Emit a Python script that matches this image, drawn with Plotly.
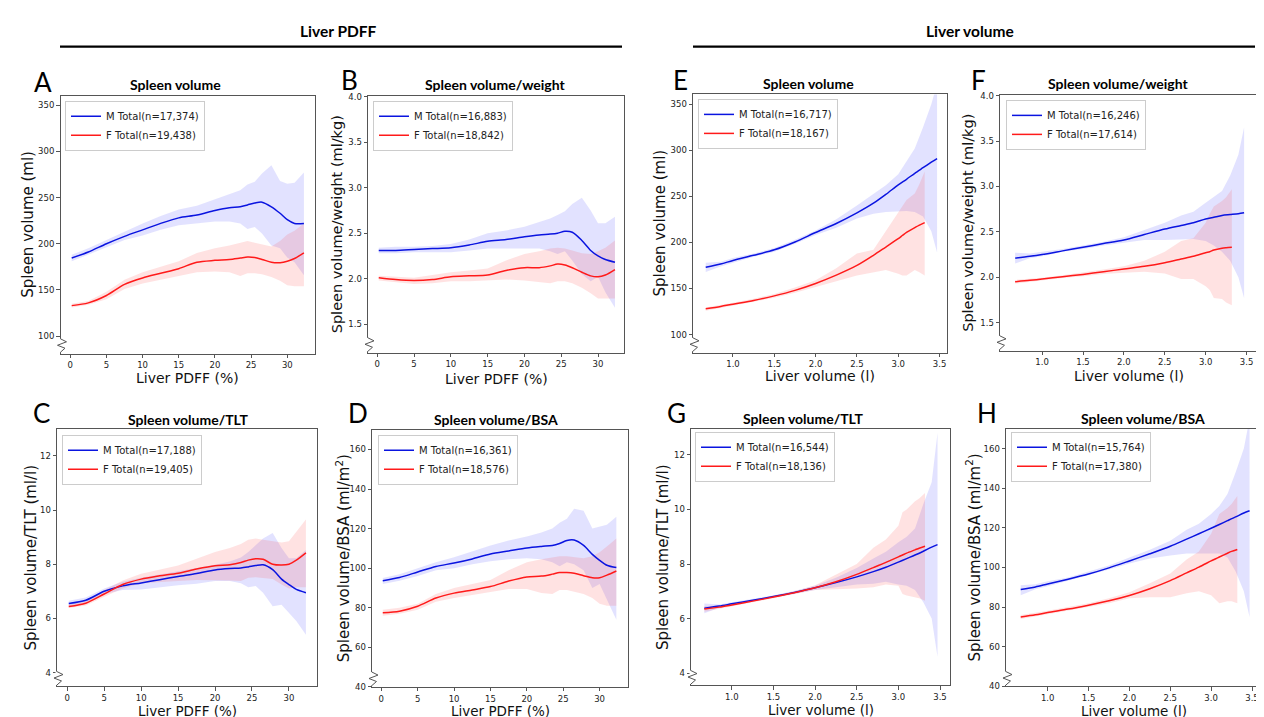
import plotly.graph_objects as go

W, H = 1264, 717

# ---------------- data ----------------
PDFF_X = [0.2, 2.5, 5, 7.5, 10, 12.5, 15, 17.5, 20, 22, 23.5, 24.5, 25.5, 26.5, 27.8, 29, 30, 31, 32.3]
LV_X_M = [0.67, 0.85, 1.0, 1.25, 1.5, 1.75, 2.0, 2.25, 2.5, 2.7, 2.85, 3.0, 3.1, 3.2, 3.3, 3.4, 3.47]
LV_X_F = [0.67, 0.85, 1.0, 1.25, 1.5, 1.75, 2.0, 2.25, 2.5, 2.7, 2.85, 3.0, 3.05, 3.1, 3.2, 3.25, 3.32]

# A: spleen volume vs PDFF
A_M = [184.5, 191, 200, 208, 215, 222, 228, 231, 236, 239, 240, 242, 244, 245, 240, 233, 226, 222, 222]
A_M_LO = [181, 188, 196, 204, 209, 215, 220, 222, 224, 224, 222, 216, 218, 211, 198, 195, 185, 180, 166]
A_M_HI = [188, 195, 204, 213, 222, 230, 237, 241, 248, 253, 258, 264, 267, 276, 285, 268, 265, 266, 277]
A_F = [133, 136, 144, 156, 163, 168, 173, 180, 182, 183, 184.5, 185.5, 185, 183, 180, 179.5, 181, 184, 190]
A_F_LO = [131, 134, 140, 151, 157, 161, 165, 169, 170, 169, 165, 168, 168, 167, 164, 160, 155, 154, 154]
A_F_HI = [135, 138, 148, 161, 169, 175, 181, 190, 195, 198, 201, 203, 201, 199, 197, 203, 210, 214, 222]

# B: spleen volume/weight vs PDFF
B_M = [2.31, 2.31, 2.32, 2.33, 2.34, 2.37, 2.41, 2.43, 2.46, 2.48, 2.49, 2.50, 2.52, 2.51, 2.42, 2.31, 2.25, 2.21, 2.18]
B_M_LO = [2.28, 2.28, 2.29, 2.29, 2.29, 2.31, 2.33, 2.33, 2.33, 2.33, 2.30, 2.27, 2.30, 2.20, 2.05, 1.97, 2.02, 1.85, 1.68]
B_M_HI = [2.34, 2.35, 2.35, 2.36, 2.38, 2.43, 2.50, 2.53, 2.57, 2.62, 2.66, 2.70, 2.74, 2.82, 2.89, 2.75, 2.61, 2.61, 2.68]
B_F = [2.01, 1.99, 1.98, 1.99, 2.02, 2.03, 2.04, 2.09, 2.12, 2.12, 2.14, 2.16, 2.15, 2.12, 2.07, 2.03, 2.02, 2.04, 2.10]
B_F_LO = [1.98, 1.96, 1.94, 1.95, 1.97, 1.97, 1.98, 1.99, 1.98, 1.96, 1.95, 1.97, 1.97, 1.95, 1.90, 1.84, 1.78, 1.78, 1.78]
B_F_HI = [2.03, 2.02, 2.01, 2.04, 2.07, 2.09, 2.11, 2.20, 2.27, 2.30, 2.33, 2.34, 2.33, 2.31, 2.28, 2.27, 2.30, 2.34, 2.42]

# C: spleen volume/TLT vs PDFF
C_M = [6.55, 6.67, 7.0, 7.2, 7.31, 7.43, 7.55, 7.66, 7.79, 7.84, 7.86, 7.90, 7.95, 7.98, 7.8, 7.45, 7.25, 7.07, 6.95]
C_M_LO = [6.45, 6.58, 6.9, 7.05, 7.07, 7.15, 7.22, 7.28, 7.38, 7.38, 7.30, 7.15, 7.2, 6.95, 6.45, 6.5, 6.2, 5.9, 5.4]
C_M_HI = [6.65, 6.77, 7.1, 7.35, 7.5, 7.62, 7.75, 7.85, 7.98, 8.1, 8.25, 8.45, 8.7, 8.95, 9.15, 8.6, 8.22, 8.22, 8.52]
C_F = [6.44, 6.56, 6.9, 7.25, 7.45, 7.57, 7.67, 7.82, 7.94, 7.98, 8.06, 8.15, 8.2, 8.18, 8.0, 7.97, 8.0, 8.15, 8.42]
C_F_LO = [6.38, 6.48, 6.8, 7.1, 7.3, 7.35, 7.38, 7.42, 7.42, 7.40, 7.38, 7.5, 7.52, 7.5, 7.45, 7.25, 7.1, 7.15, 7.15]
C_F_HI = [6.52, 6.65, 7.05, 7.4, 7.65, 7.8, 7.95, 8.2, 8.45, 8.6, 8.75, 8.9, 8.95, 8.9, 8.85, 8.8, 8.85, 9.2, 9.65]

# D: spleen volume/BSA vs PDFF
D_M = [93.7, 95.3, 98.1, 100.9, 102.6, 104.7, 107.2, 108.7, 110.2, 111, 111.5, 112.5, 114, 114.2, 111.5, 107, 104, 101.5, 100.3]
D_M_LO = [92, 93.7, 96, 99, 100, 102, 103.5, 104.5, 105, 104.5, 103, 101, 103, 102, 99, 90, 92, 84, 74]
D_M_HI = [95, 97, 100, 103, 105.5, 108.5, 111.5, 114, 116, 118, 120, 123, 125, 130, 129, 120, 121, 122, 126]
D_F = [77.5, 78.3, 80.8, 84.9, 87.4, 89, 90.7, 93.5, 95.6, 96, 97, 97.8, 97.8, 97.4, 96.2, 95.2, 95.2, 96.5, 98.6]
D_F_LO = [76, 77, 79, 83, 85, 86.5, 88, 89.5, 89.5, 87.5, 87, 89, 89, 88, 87, 85, 82, 81, 81]
D_F_HI = [79, 80, 82, 87, 90, 92, 94, 99, 103, 104.5, 105.5, 106, 106, 105.5, 105, 106, 108, 111, 115]

# E: spleen volume vs liver volume
E_M = [173, 176.5, 180.4, 186, 192, 200.5, 210.7, 220.5, 232, 242.5, 252, 262.5, 268.5, 275, 281, 287, 291]
E_M_LO = [168, 174, 178, 184.5, 190, 198.5, 208, 216, 226, 231, 233, 234, 234, 233, 228, 212, 189]
E_M_HI = [178, 179, 183, 188, 194, 203, 213, 225, 240, 253, 262, 274, 288, 302, 325, 350, 372]
E_F = [128, 130.5, 133, 137, 142, 148, 155.5, 164.5, 175, 186, 195, 204, 207.5, 211, 216, 218.5, 221.5]
E_F_LO = [126, 129, 131.5, 135.5, 140, 145.5, 152, 158, 164, 167, 170, 166, 164, 164, 170, 168, 164]
E_F_HI = [129.5, 132, 134.5, 139, 144, 151, 159, 172, 188, 192, 212, 232, 240, 246, 253, 262, 277]

# F: spleen volume/weight vs liver volume
F_M = [2.21, 2.23, 2.25, 2.29, 2.33, 2.37, 2.41, 2.47, 2.53, 2.57, 2.60, 2.64, 2.66, 2.68, 2.69, 2.70, 2.71]
F_M_LO = [2.15, 2.21, 2.23, 2.28, 2.31, 2.35, 2.38, 2.41, 2.41, 2.42, 2.42, 2.40, 2.35, 2.28, 2.18, 2.0, 1.77]
F_M_HI = [2.27, 2.26, 2.28, 2.31, 2.35, 2.39, 2.44, 2.52, 2.60, 2.68, 2.72, 2.82, 2.88, 2.95, 3.12, 3.35, 3.65]
F_F = [1.95, 1.965, 1.98, 2.005, 2.03, 2.06, 2.09, 2.12, 2.16, 2.20, 2.23, 2.27, 2.28, 2.30, 2.32, 2.325, 2.33]
F_F_LO = [1.93, 1.95, 1.965, 1.99, 2.01, 2.035, 2.05, 2.06, 2.04, 1.98, 1.98, 1.90, 1.86, 1.77, 1.76, 1.72, 1.69]
F_F_HI = [1.97, 1.98, 1.995, 2.02, 2.05, 2.085, 2.12, 2.18, 2.28, 2.40, 2.43, 2.60, 2.70, 2.78, 2.84, 2.88, 2.97]

# G: spleen volume/TLT vs liver volume
G_M = [6.38, 6.46, 6.54, 6.67, 6.81, 6.96, 7.13, 7.32, 7.53, 7.72, 7.88, 8.07, 8.2, 8.33, 8.47, 8.62, 8.71]
G_M_LO = [6.2, 6.4, 6.48, 6.63, 6.77, 6.91, 7.05, 7.15, 7.25, 7.28, 7.35, 7.25, 7.2, 7.05, 6.6, 6.0, 4.6]
G_M_HI = [6.55, 6.52, 6.6, 6.72, 6.85, 7.01, 7.2, 7.5, 7.85, 8.2, 8.45, 8.8, 9.0, 9.3, 10.2, 11.0, 12.8]
G_F = [6.35, 6.42, 6.50, 6.64, 6.79, 6.95, 7.13, 7.35, 7.62, 7.87, 8.06, 8.26, 8.33, 8.4, 8.52, 8.58, 8.65]
G_F_LO = [6.25, 6.36, 6.46, 6.6, 6.75, 6.9, 7.05, 7.08, 7.1, 7.15, 7.25, 7.2, 6.9, 6.85, 6.8, 6.75, 6.65]
G_F_HI = [6.45, 6.48, 6.54, 6.68, 6.85, 7.0, 7.22, 7.6, 8.0, 8.6, 8.9, 9.4, 9.9, 10.0, 10.3, 10.4, 10.6]

# H: spleen volume/BSA vs liver volume
H_M = [88.9, 90.2, 91.7, 94.1, 96.7, 99.8, 103.3, 106.9, 110.7, 114.3, 117, 119.8, 121.7, 123.6, 125.5, 127.5, 128.6]
H_M_LO = [86, 89, 90.5, 93.3, 96, 99, 102, 104.5, 106, 107, 107, 107, 107, 105, 98, 88, 75]
H_M_HI = [91, 91.5, 93, 95, 98, 101, 105, 109, 113.5, 119, 122, 127, 131, 137, 148, 160, 175]
H_F = [75.0, 76.1, 77.3, 79, 81, 83.2, 85.9, 89.3, 93.4, 97.3, 100.2, 103.3, 104.3, 105.3, 107.2, 108.1, 109.1]
H_F_LO = [74, 75.3, 76.5, 78.3, 80, 82, 84.5, 85, 85, 87, 88, 86, 84, 82, 83, 83, 82]
H_F_HI = [76, 77, 78.2, 80, 82, 84.5, 87.5, 92, 97, 104, 108, 117, 122, 127, 130, 132, 136]

LETTERS = ["A", "B", "C", "D", "E", "F", "G", "H"]
TITLES = ["Spleen volume", "Spleen volume/weight", "Spleen volume/TLT", "Spleen volume/BSA",
          "Spleen volume", "Spleen volume/weight", "Spleen volume/TLT", "Spleen volume/BSA"]
YLABELS = ["Spleen volume (ml)", "Spleen volume/weight (ml/kg)", "Spleen volume/TLT (ml/l)",
           "Spleen volume/BSA (ml/m<sup>2</sup>)",
           "Spleen volume (ml)", "Spleen volume/weight (ml/kg)", "Spleen volume/TLT (ml/l)",
           "Spleen volume/BSA (ml/m<sup>2</sup>)"]
XLABELS = ["Liver PDFF (%)"] * 4 + ["Liver volume (l)"] * 4
N_M = ["17,374", "16,883", "17,188", "16,361", "16,717", "16,246", "16,544", "15,764"]
N_F = ["19,438", "18,842", "19,405", "18,576", "18,167", "17,614", "18,136", "17,380"]
SECTIONS = ["Liver PDFF", "Liver volume"]

PDFF_TICKS = [0, 5, 10, 15, 20, 25, 30]
LV_TICKS = [1.0, 1.5, 2.0, 2.5, 3.0, 3.5]
SV_TICKS = [100, 150, 200, 250, 300, 350]
WT_TICKS = [1.5, 2.0, 2.5, 3.0, 3.5, 4.0]
TLT_TICKS = [4, 6, 8, 10, 12]
BSA_TICKS = [40, 60, 80, 100, 120, 140, 160]

# ---------------- layout geometry (pixels) ----------------
panels = [
    dict(data=(A_M, A_M_LO, A_M_HI, A_F, A_F_LO, A_F_HI), xm=PDFF_X, xf=PDFF_X,
         box=(52.5, 307, 85, 346), xr=[-1.35, 33.83], yr=[81, 360], yt=SV_TICKS, yf="d", xt=PDFF_TICKS, xf_fmt="d",
         leg=(57, 90), let=(35, 71), tit=(167, 73), ytx=20, xty=371, xfs=14, yfs=15),
    dict(data=(B_M, B_M_LO, B_M_HI, B_F, B_F_LO, B_F_HI), xm=PDFF_X, xf=PDFF_X,
         box=(360, 616, 85, 345), xr=[-1.26, 33.53], yr=[1.185, 4.01], yt=WT_TICKS, yf=".1f", xt=PDFF_TICKS, xf_fmt="d",
         leg=(365, 90), let=(341, 69), tit=(487, 73), ytx=329, xty=372, xfs=14, yfs=14.5),
    dict(data=(C_M, C_M_LO, C_M_HI, C_F, C_F_LO, C_F_HI), xm=PDFF_X, xf=PDFF_X,
         box=(49, 309, 422, 683), xr=[-1.39, 33.8], yr=[3.49, 13.0], yt=TLT_TICKS, yf="d", xt=PDFF_TICKS, xf_fmt="d",
         leg=(54, 428), let=(33, 406), tit=(180, 413), ytx=23, xty=707.5, xfs=13.5, yfs=15),
    dict(data=(D_M, D_M_LO, D_M_HI, D_F, D_F_LO, D_F_HI), xm=PDFF_X, xf=PDFF_X,
         box=(364, 620, 423, 683.5), xr=[-1.28, 33.9], yr=[40, 170], yt=BSA_TICKS, yf="d", xt=PDFF_TICKS, xf_fmt="d",
         leg=(370, 428), let=(350, 406), tit=(488, 413), ytx=335, xty=708, xfs=13.5, yfs=15),
    dict(data=(E_M, E_M_LO, E_M_HI, E_F, E_F_LO, E_F_HI), xm=LV_X_M, xf=LV_X_F,
         box=(685, 939, 83.5, 345), xr=[0.516, 3.59], yr=[80.4, 360.5], yt=SV_TICKS, yf="d", xt=LV_TICKS, xf_fmt=".1f",
         leg=(690, 88), let=(673, 69), tit=(800, 72), ytx=652, xty=369, xfs=14, yfs=15),
    dict(data=(F_M, F_M_LO, F_M_HI, F_F, F_F_LO, F_F_HI), xm=LV_X_M, xf=LV_X_F,
         box=(992, 1250, 84, 343), xr=[0.485, 3.64], yr=[1.19, 4.008], yt=WT_TICKS, yf=".1f", xt=LV_TICKS, xf_fmt=".1f",
         leg=(998, 89), let=(970, 69), tit=(1110, 72), ytx=960, xty=369, xfs=14, yfs=14.5),
    dict(data=(G_M, G_M_LO, G_M_HI, G_F, G_F_LO, G_F_HI), xm=LV_X_M, xf=LV_X_F,
         box=(683, 942, 422, 682), xr=[0.51, 3.62], yr=[3.55, 12.96], yt=TLT_TICKS, yf="d", xt=LV_TICKS, xf_fmt=".1f",
         leg=(687, 425), let=(668, 406), tit=(795, 412), ytx=655, xty=707, xfs=13.5, yfs=15),
    dict(data=(H_M, H_M_LO, H_M_HI, H_F, H_F_LO, H_F_HI), xm=LV_X_M, xf=LV_X_F,
         box=(998, 1253, 422, 683), xr=[0.49, 3.61], yr=[40, 170], yt=BSA_TICKS, yf="d", xt=LV_TICKS, xf_fmt=".1f",
         leg=(1003, 425), let=(979, 406), tit=(1135, 412), ytx=965, xty=708, xfs=13.5, yfs=15),
]


def px(x):
    return x / W


def py(y):
    return 1 - y / H


BLUE = "#0a14e0"
RED = "#ff1a1a"
BLUE_FILL = "rgba(60,60,255,0.15)"
RED_FILL = "rgba(255,60,60,0.15)"
SPINE = "#555555"
FONT_MPL = "DejaVu Sans"
FONT_CAL = "Lato"

fig = go.Figure()
annotations = []
shapes = []
layout_axes = {}

for i, p in enumerate(panels):
    k = i + 1
    xa = "x" if k == 1 else f"x{k}"
    ya = "y" if k == 1 else f"y{k}"
    leg = "legend" if k == 1 else f"legend{k}"
    m, mlo, mhi, f, flo, fhi = p["data"]
    xm, xf = p["xm"], p["xf"]

    # confidence bands
    for xs, lo, hi, col in ((xm, mlo, mhi, BLUE_FILL), (xf, flo, fhi, RED_FILL)):
        fig.add_trace(go.Scatter(x=xs, y=hi, mode="lines", line=dict(width=0, color=col),
                                 xaxis=xa, yaxis=ya, showlegend=False, hoverinfo="skip", legend=leg))
        fig.add_trace(go.Scatter(x=xs, y=lo, mode="lines", line=dict(width=0, color=col),
                                 fill="tonexty", fillcolor=col,
                                 xaxis=xa, yaxis=ya, showlegend=False, hoverinfo="skip", legend=leg))
    # mean lines
    fig.add_trace(go.Scatter(x=xm, y=m, mode="lines", line=dict(color=BLUE, width=1.5, shape="spline", smoothing=0.8),
                             name=f"M Total(n={N_M[i]})", xaxis=xa, yaxis=ya, legend=leg))
    fig.add_trace(go.Scatter(x=xf, y=f, mode="lines", line=dict(color=RED, width=1.5, shape="spline", smoothing=0.8),
                             name=f"F Total(n={N_F[i]})", xaxis=xa, yaxis=ya, legend=leg))

    l, r, t, b = p["box"]
    axkey_x = "xaxis" if k == 1 else f"xaxis{k}"
    axkey_y = "yaxis" if k == 1 else f"yaxis{k}"
    layout_axes[axkey_x] = dict(
        domain=[px(l), px(r)], anchor=ya, range=p["xr"], tickvals=p["xt"], tickformat=p["xf_fmt"],
        showline=True, mirror=True, linecolor=SPINE, linewidth=1, ticks="outside", ticklen=3.5,
        tickcolor=SPINE, showgrid=False, zeroline=False, tickfont=dict(family=FONT_MPL, size=8.5, color="#222"),
    )
    layout_axes[axkey_y] = dict(
        domain=[py(b), py(t)], anchor=xa, range=p["yr"], tickvals=p["yt"], tickformat=p["yf"],
        showline=True, mirror=True, linecolor=SPINE, linewidth=1, ticks="outside", ticklen=3.5,
        tickcolor=SPINE, showgrid=False, zeroline=False, tickfont=dict(family=FONT_MPL, size=8.5, color="#222"),
    )
    layout_axes[leg] = dict(
        x=px(p["leg"][0]), y=py(p["leg"][1]), xanchor="left", yanchor="top",
        bgcolor="white", bordercolor="#cccccc", borderwidth=1, traceorder="normal",
        font=dict(family=FONT_MPL, size=10, color="#222"), itemwidth=30, tracegroupgap=0,
    )

    annotations.append(dict(text=LETTERS[i], x=px(p["let"][0]), y=py(p["let"][1]), xref="paper", yref="paper",
                            showarrow=False, xanchor="center", yanchor="middle",
                            font=dict(family=FONT_CAL, size=26, color="black")))
    annotations.append(dict(text=f"<b>{TITLES[i]}</b>", x=px(p["tit"][0]), y=py(p["tit"][1]), xref="paper",
                            yref="paper", showarrow=False, xanchor="center", yanchor="middle",
                            font=dict(family=FONT_CAL, size=14, color="black")))
    annotations.append(dict(text=YLABELS[i], x=px(p["ytx"]), y=py((t + b) / 2), xref="paper", yref="paper",
                            showarrow=False, textangle=-90, xanchor="center", yanchor="middle",
                            font=dict(family=FONT_MPL, size=p["yfs"], color="#111")))
    annotations.append(dict(text=XLABELS[i], x=px((l + r) / 2), y=py(p["xty"]), xref="paper", yref="paper",
                            showarrow=False, xanchor="center", yanchor="middle",
                            font=dict(family=FONT_MPL, size=p["xfs"], color="#111")))

    # axis-break zigzag on the left spine
    shapes.append(dict(type="rect", xref="paper", yref="paper", x0=px(l - 1.5), x1=px(l + 1.5),
                       y0=py(b - 1.5), y1=py(b - 15), fillcolor="white", line=dict(width=0), layer="above"))
    pts = [(l, b - 15), (l + 6, b - 12), (l - 3, b - 8.5), (l + 4.5, b - 5.5), (l, b - 1.5)]
    path = "M " + " L ".join(f"{px(a):.5f},{py(c):.5f}" for a, c in pts)
    shapes.append(dict(type="path", xref="paper", yref="paper", path=path,
                       line=dict(color=SPINE, width=1), layer="above"))

# section headers
for name, (x0, x1, cx) in zip(SECTIONS, [(52, 614, 330), (685, 1247, 962)]):
    annotations.append(dict(text=f"<b>{name}</b>", x=px(cx), y=py(19), xref="paper", yref="paper",
                            showarrow=False, xanchor="center", yanchor="middle",
                            font=dict(family=FONT_CAL, size=15.5, color="black")))
    shapes.append(dict(type="line", xref="paper", yref="paper", x0=px(x0), x1=px(x1), y0=py(35), y1=py(35),
                       line=dict(color="black", width=2.2)))

fig.update_layout(
    width=W, height=H, margin=dict(l=0, r=0, t=0, b=0),
    paper_bgcolor="white", plot_bgcolor="white",
    annotations=annotations, shapes=shapes, **layout_axes,
)

fig.write_html("out.html")
